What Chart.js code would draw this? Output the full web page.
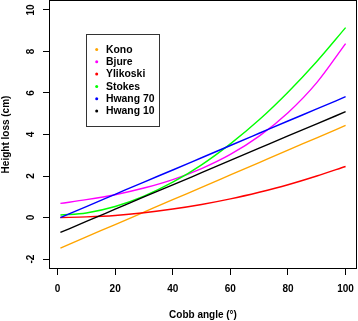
<!DOCTYPE html>
<html>
<head>
<meta charset="utf-8">
<script src="https://cdn.jsdelivr.net/npm/chart.js@4"></script>
<style>
  html, body { margin: 0; padding: 0; background: #fff; }
  #wrap { width: 358px; height: 321px; }
</style>
</head>
<body>
<div id="wrap"><canvas id="chart"></canvas></div>
<script>
// values, every 10 degrees of Cobb angle
const cobb     = [1, 10, 20, 30, 40, 50, 60, 70, 80, 90, 100]
const kono     = [-1.47, -0.93, -0.34, 0.26, 0.86, 1.45, 2.05, 2.65, 3.25, 3.84, 4.44]
const bjure    = [0.68, 0.86, 1.10, 1.42, 1.83, 2.36, 3.04, 3.92, 5.05, 6.50, 8.38]
const ylikoski = [0.0, 0.03, 0.10, 0.23, 0.41, 0.63, 0.90, 1.22, 1.58, 2.00, 2.46]
const stokes   = [0.12, 0.22, 0.53, 1.03, 1.70, 2.54, 3.55, 4.71, 6.04, 7.52, 9.15]
const hwang70  = [0.0, 0.53, 1.12, 1.71, 2.29, 2.88, 3.47, 4.06, 4.65, 5.23, 5.82]
const hwang10  = [-0.72, -0.19, 0.40, 0.99, 1.57, 2.16, 2.75, 3.34, 3.93, 4.51, 5.10]

const seriesNames  = ['Kono', 'Bjure', 'Ylikoski', 'Stokes', 'Hwang 70', 'Hwang 10']
const seriesValues = [kono, bjure, ylikoski, stokes, hwang70, hwang10]
const seriesColors = ['#FFA500', '#FF00FF', '#FF0000', '#00FF00', '#0000FF', '#000000']

const xTicks = [0, 20, 40, 60, 80, 100]
const yTicks = [-2, 0, 2, 4, 6, 8, 10]
const xTitle = 'Cobb angle (°)'
const yTitle = 'Height loss (cm)'

const FONT = 'bold 10px "Liberation Sans", Arial, sans-serif'
const LEGEND_FONT = 'bold 10.4px "Liberation Sans", Arial, sans-serif'

// box, tick labels, titles and legend drawn R-style
const rStyle = {
  id: 'rStyle',
  afterDraw(chart) {
    const ctx = chart.ctx
    const a = chart.chartArea
    const xs = chart.scales.x
    const ys = chart.scales.y
    ctx.save()
    ctx.strokeStyle = '#000'
    ctx.lineWidth = 1
    ctx.strokeRect(a.left + 0.5, a.top + 0.5, a.right - a.left - 1, a.bottom - a.top - 1)

    ctx.fillStyle = '#000'
    ctx.font = FONT
    ctx.textAlign = 'center'
    ctx.textBaseline = 'middle'
    xTicks.forEach(v => ctx.fillText(String(v), xs.getPixelForValue(v), 289))
    yTicks.forEach(v => {
      ctx.save()
      ctx.translate(31, ys.getPixelForValue(v))
      ctx.rotate(-Math.PI / 2)
      ctx.fillText(String(v), 0, 0)
      ctx.restore()
    })
    ctx.fillText(xTitle, (a.left + a.right) / 2, 315)
    ctx.save()
    ctx.translate(6, (a.top + a.bottom) / 2)
    ctx.rotate(-Math.PI / 2)
    ctx.fillText(yTitle, 0, 0)
    ctx.restore()

    // legend
    ctx.fillStyle = '#fff'
    ctx.fillRect(86.5, 34.5, 73, 92)
    ctx.strokeStyle = '#333'
    ctx.strokeRect(86.5, 34.5, 73, 92)
    ctx.font = LEGEND_FONT
    ctx.textAlign = 'left'
    chart.data.datasets.forEach((ds, i) => {
      const y = 49.5 + i * 12.3
      ctx.fillStyle = ds.borderColor
      ctx.beginPath()
      ctx.arc(96.7, y, 1.5, 0, Math.PI * 2)
      ctx.fill()
      ctx.fillStyle = '#000'
      ctx.fillText(ds.label, 106, y + 0.5)
    })
    ctx.restore()
  }
}

const ctx = document.getElementById('chart').getContext('2d')

const heightChart = new Chart(ctx, {
  type: 'line',
  data: {
    datasets: seriesNames.map((name, i) => ({
      label: name,
      data: cobb.map((c, j) => ({ x: c, y: seriesValues[i][j] })),
      borderColor: seriesColors[i],
      backgroundColor: seriesColors[i],
      borderWidth: 1.4,
      pointRadius: 0,
      cubicInterpolationMode: 'monotone',
      fill: false,
      order: seriesNames.length - i
    }))
  },
  options: {
    responsive: true,
    maintainAspectRatio: false,
    animation: false,
    devicePixelRatio: 1,
    layout: { padding: { top: 0, right: 1, left: 0, bottom: 0 } },
    plugins: {
      legend: { display: false },
      tooltip: { enabled: false }
    },
    scales: {
      x: {
        type: 'linear',
        min: -2.96,
        max: 103.96,
        border: { display: false },
        grid: { display: true, drawOnChartArea: false, drawTicks: true, tickLength: 6, color: '#000', lineWidth: 1 },
        ticks: { display: false },
        afterBuildTicks: s => { s.ticks = xTicks.map(v => ({ value: v })) },
        afterFit: s => { s.height = 52 }
      },
      y: {
        type: 'linear',
        min: -2.48,
        max: 10.48,
        border: { display: false },
        grid: { display: true, drawOnChartArea: false, drawTicks: true, tickLength: 6, color: '#000', lineWidth: 1 },
        ticks: { display: false },
        afterBuildTicks: s => { s.ticks = yTicks.map(v => ({ value: v })) },
        afterFit: s => { s.width = 49 }
      }
    }
  },
  plugins: [rStyle]
})
</script>
</body>
</html>
